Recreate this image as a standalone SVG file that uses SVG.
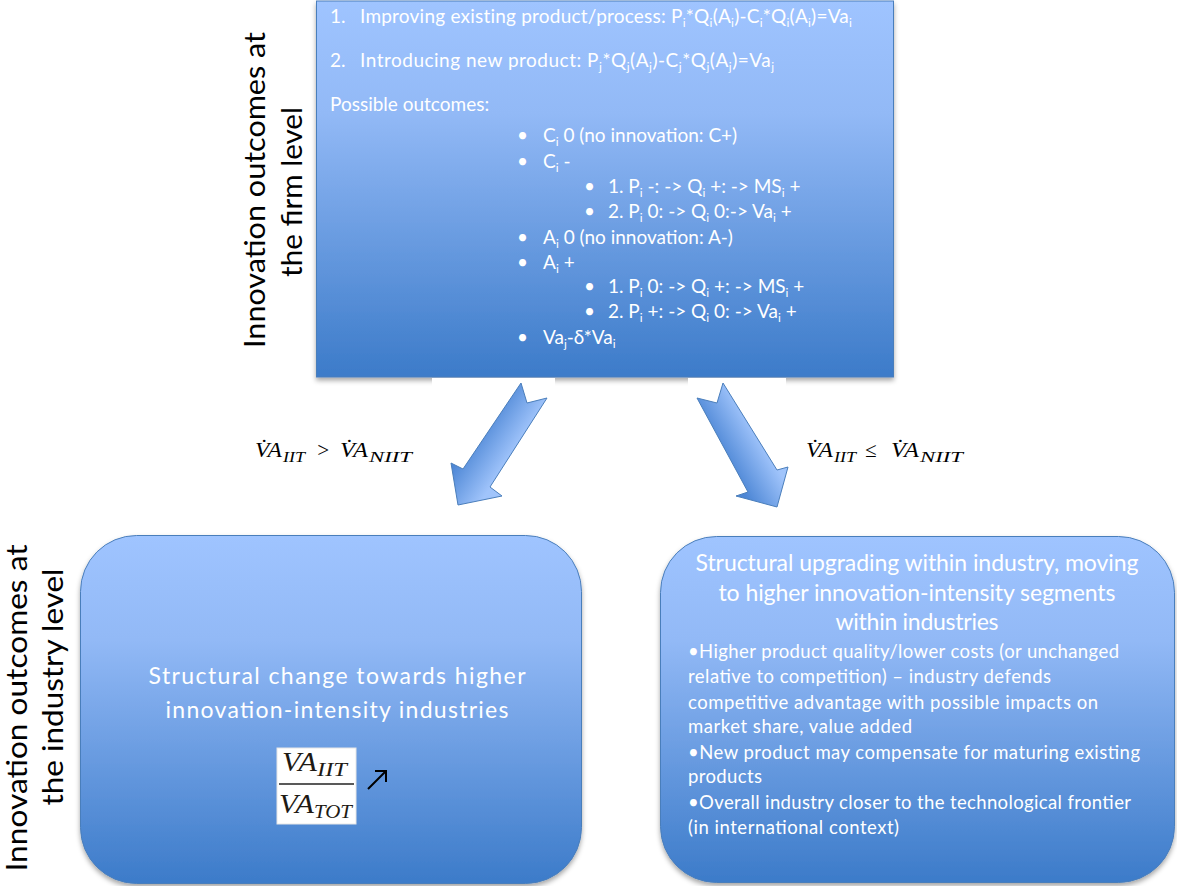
<svg xmlns="http://www.w3.org/2000/svg" width="1177" height="886" viewBox="0 0 1177 886">
<defs>
<linearGradient id="boxGrad" x1="0" y1="0" x2="0" y2="1">
<stop offset="0" stop-color="#9fc4ff"/>
<stop offset="0.3" stop-color="#92b9f6"/>
<stop offset="1" stop-color="#3c7bc9"/>
</linearGradient>
<linearGradient id="arrGradL" gradientUnits="userSpaceOnUse" x1="478" y1="428" x2="514" y2="452">
<stop offset="0" stop-color="#4c86d5"/>
<stop offset="1" stop-color="#a0c4fb"/>
</linearGradient>
<linearGradient id="arrGradR" gradientUnits="userSpaceOnUse" x1="722" y1="456" x2="758" y2="435">
<stop offset="0" stop-color="#4c86d5"/>
<stop offset="1" stop-color="#a0c4fb"/>
</linearGradient>
<filter id="shadow" x="-5%" y="-5%" width="110%" height="115%">
<feDropShadow dx="0" dy="3" stdDeviation="2.5" flood-color="#000" flood-opacity="0.35"/>
</filter>
</defs>
<style>
.box{fill:url(#boxGrad);stroke:#4a7ebb;stroke-width:1;filter:url(#shadow)}
.arrow{stroke:#4a7ebb;stroke-width:1;stroke-linejoin:miter}
.wt{font-family:Lato,"Liberation Sans",sans-serif;fill:#ffffff}
.lbl{font-family:Lato,"Liberation Sans",sans-serif;fill:#000000;font-size:28px}
.math{font-family:"Liberation Serif","DejaVu Serif",serif;font-style:italic;fill:#000000;font-size:21px}
.msub{font-family:"Liberation Serif","DejaVu Serif",serif;font-style:italic;fill:#000000;font-size:14px}
.sub{font-size:12px}
.frac{font-family:"Liberation Serif","DejaVu Serif",serif;font-style:italic;fill:#1e1a14;font-size:27px}
.fsub{font-family:"Liberation Serif","DejaVu Serif",serif;font-style:italic;fill:#1e1a14;font-size:18px}
</style>
<rect width="1177" height="886" fill="#ffffff"/>

<g id="label-firm">
<text class="lbl" text-anchor="middle" textLength="316" lengthAdjust="spacingAndGlyphs" transform="translate(265,190) rotate(-90)">Innovation outcomes at</text>
<text class="lbl" text-anchor="middle" textLength="170" lengthAdjust="spacingAndGlyphs" transform="translate(302,192) rotate(-90)">the firm level</text>
</g>

<g id="label-industry">
<text class="lbl" text-anchor="middle" textLength="327" lengthAdjust="spacingAndGlyphs" transform="translate(27,708) rotate(-90)">Innovation outcomes at</text>
<text class="lbl" text-anchor="middle" textLength="237" lengthAdjust="spacingAndGlyphs" transform="translate(63,687) rotate(-90)">the industry level</text>
</g>

<g id="node-firm">
<rect class="box" x="316.5" y="1" width="577" height="376"/>
<g class="wt" font-size="19">
<text x="330" y="23">1.</text>
<text x="360" y="23" letter-spacing="0.22">Improving existing product/process: P<tspan class="sub" dy="4">i</tspan><tspan dy="-4">*Q</tspan><tspan class="sub" dy="4">i</tspan><tspan dy="-4">(A</tspan><tspan class="sub" dy="4">i</tspan><tspan dy="-4">)-C</tspan><tspan class="sub" dy="4">i</tspan><tspan dy="-4">*Q</tspan><tspan class="sub" dy="4">i</tspan><tspan dy="-4">(A</tspan><tspan class="sub" dy="4">i</tspan><tspan dy="-4">)=Va</tspan><tspan class="sub" dy="4">i</tspan></text>
<text x="330" y="67">2.</text>
<text x="360" y="67" letter-spacing="0.5">Introducing new product: P<tspan class="sub" dy="4">j</tspan><tspan dy="-4">*Q</tspan><tspan class="sub" dy="4">j</tspan><tspan dy="-4">(A</tspan><tspan class="sub" dy="4">j</tspan><tspan dy="-4">)-C</tspan><tspan class="sub" dy="4">j</tspan><tspan dy="-4">*Q</tspan><tspan class="sub" dy="4">j</tspan><tspan dy="-4">(A</tspan><tspan class="sub" dy="4">j</tspan><tspan dy="-4">)=Va</tspan><tspan class="sub" dy="4">j</tspan></text>
<text x="330" y="111">Possible outcomes:</text>
</g>
<g class="wt" font-size="19">
<text x="517" y="142">•</text>
<text x="543" y="142">C<tspan class="sub" dy="4">i</tspan><tspan dy="-4"> 0 (no innovation: C+)</tspan></text>
<text x="517" y="168">•</text>
<text x="543" y="168">C<tspan class="sub" dy="4">i</tspan><tspan dy="-4"> -</tspan></text>
<text x="584" y="193">•</text>
<text x="608" y="193">1. P<tspan class="sub" dy="4">i</tspan><tspan dy="-4"> -: -&gt; Q</tspan><tspan class="sub" dy="4">i</tspan><tspan dy="-4"> +: -&gt; MS</tspan><tspan class="sub" dy="4">i</tspan><tspan dy="-4"> +</tspan></text>
<text x="584" y="218">•</text>
<text x="608" y="218">2. P<tspan class="sub" dy="4">i</tspan><tspan dy="-4"> 0: -&gt; Q</tspan><tspan class="sub" dy="4">i</tspan><tspan dy="-4"> 0:-&gt; Va</tspan><tspan class="sub" dy="4">i</tspan><tspan dy="-4"> +</tspan></text>
<text x="517" y="244">•</text>
<text x="543" y="244">A<tspan class="sub" dy="4">i</tspan><tspan dy="-4"> 0 (no innovation: A-)</tspan></text>
<text x="517" y="269">•</text>
<text x="543" y="269">A<tspan class="sub" dy="4">i</tspan><tspan dy="-4"> +</tspan></text>
<text x="584" y="293">•</text>
<text x="608" y="293">1. P<tspan class="sub" dy="4">i</tspan><tspan dy="-4"> 0: -&gt; Q</tspan><tspan class="sub" dy="4">i</tspan><tspan dy="-4"> +: -&gt; MS</tspan><tspan class="sub" dy="4">i</tspan><tspan dy="-4"> +</tspan></text>
<text x="584" y="318">•</text>
<text x="608" y="318">2. P<tspan class="sub" dy="4">i</tspan><tspan dy="-4"> +: -&gt; Q</tspan><tspan class="sub" dy="4">i</tspan><tspan dy="-4"> 0: -&gt; Va</tspan><tspan class="sub" dy="4">i</tspan><tspan dy="-4"> +</tspan></text>
<text x="517" y="344">•</text>
<text x="543" y="344">Va<tspan class="sub" dy="4">j</tspan><tspan dy="-4">-δ*Va</tspan><tspan class="sub" dy="4">i</tspan></text>
</g>
</g>

<g id="connectors">
<rect x="432" y="378" width="123" height="8" fill="#ffffff"/>
<rect x="688" y="378" width="98" height="8" fill="#ffffff"/>
<polygon class="arrow" fill="url(#arrGradL)" points="521,383 527,403 547,398 490,487 502,496 458,505 451,463 463,469"/>
<polygon class="arrow" fill="url(#arrGradR)" points="723,383 777,470 788,467 777,507 736,496 748,492 697,398 717,403"/>
<g id="cond-left">
<text class="math" x="255" y="457" textLength="27" lengthAdjust="spacingAndGlyphs">V̇A</text>
<text class="msub" x="283" y="462" textLength="22" lengthAdjust="spacingAndGlyphs">IIT</text>
<text class="math" x="316" y="457">&gt;</text>
<text class="math" x="340" y="457" textLength="28" lengthAdjust="spacingAndGlyphs">V̇A</text>
<text class="msub" x="369" y="462" textLength="43" lengthAdjust="spacingAndGlyphs">NIIT</text>
</g>
<g id="cond-right">
<text class="math" x="806" y="457" textLength="27" lengthAdjust="spacingAndGlyphs">V̇A</text>
<text class="msub" x="834" y="462" textLength="22" lengthAdjust="spacingAndGlyphs">IIT</text>
<text class="math" x="865" y="457">≤</text>
<text class="math" x="891" y="457" textLength="28" lengthAdjust="spacingAndGlyphs">V̇A</text>
<text class="msub" x="920" y="462" textLength="43" lengthAdjust="spacingAndGlyphs">NIIT</text>
</g>
</g>

<g id="node-industry-change">
<rect class="box" x="80.5" y="535.5" width="501" height="348" rx="56" ry="56"/>
<text class="wt" font-size="23" text-anchor="middle" x="337" y="684" textLength="377">Structural change towards higher</text>
<text class="wt" font-size="23" text-anchor="middle" x="337" y="718" textLength="343">innovation-intensity industries</text>
<rect x="277" y="748" width="79" height="76" fill="#ffffff" stroke="#e6e6e6" stroke-width="1"/>
<text class="frac" x="282" y="771" textLength="35" lengthAdjust="spacingAndGlyphs">VA</text>
<text class="fsub" x="317" y="776" textLength="30" lengthAdjust="spacingAndGlyphs">IIT</text>
<line x1="279" y1="784" x2="354" y2="784" stroke="#222" stroke-width="1.5"/>
<text class="frac" x="279" y="813" textLength="35" lengthAdjust="spacingAndGlyphs">VA</text>
<text class="fsub" x="314" y="818" textLength="38" lengthAdjust="spacingAndGlyphs">TOT</text>
<path d="M368,789 L386,771 M375,771 L386,771 L386,782" fill="none" stroke="#000" stroke-width="2"/>
</g>

<g id="node-industry-upgrading">
<rect class="box" x="660.5" y="536.5" width="514" height="346" rx="56" ry="56"/>
<g class="wt" font-size="23" text-anchor="middle">
<text x="917" y="571" textLength="443">Structural upgrading within industry, moving</text>
<text x="917" y="601" textLength="397">to higher innovation-intensity segments</text>
<text x="917" y="630" textLength="163">within industries</text>
</g>
<g class="wt" font-size="18.5">
<text x="688" y="658" textLength="431">•Higher product quality/lower costs (or unchanged</text>
<text x="688" y="683" textLength="363">relative to competition) – industry defends</text>
<text x="688" y="709" textLength="410">competitive advantage with possible impacts on</text>
<text x="688" y="733" textLength="224">market share, value added</text>
<text x="688" y="759" textLength="452">•New product may compensate for maturing existing</text>
<text x="688" y="783" textLength="74">products</text>
<text x="688" y="809" textLength="443">•Overall industry closer to the technological frontier</text>
<text x="688" y="834" textLength="211">(in international context)</text>
</g>
</g>
</svg>
